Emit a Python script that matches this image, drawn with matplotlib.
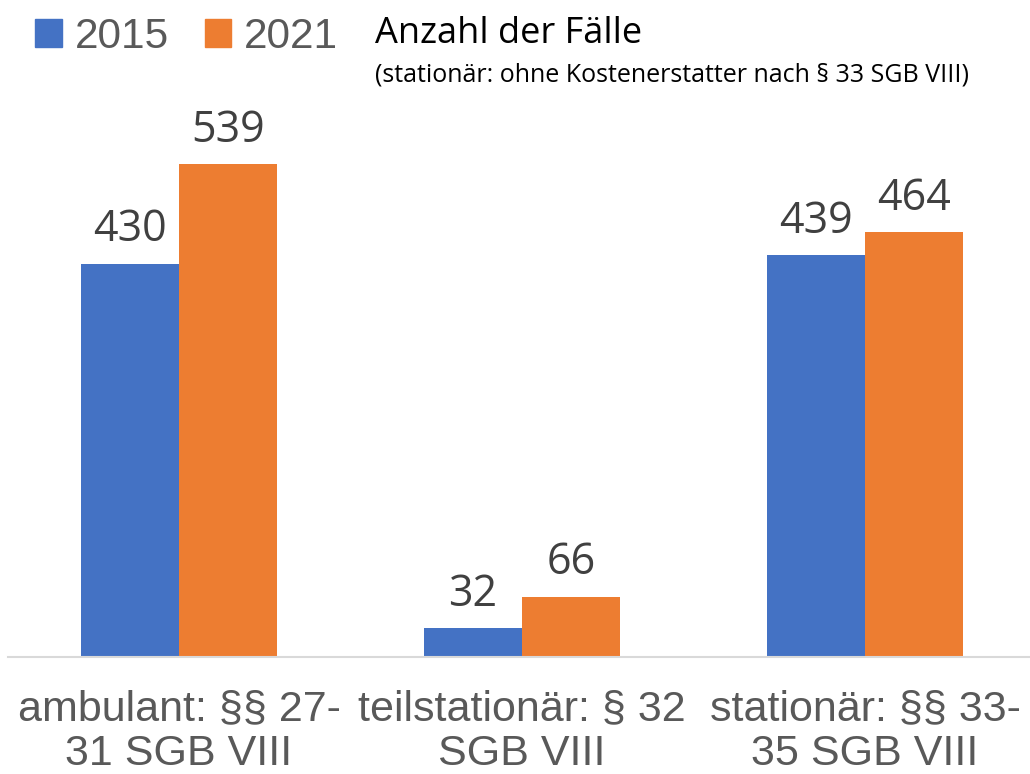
import numpy as np
import matplotlib.pyplot as plt
from matplotlib.patches import Patch

categories = ["ambulant: §§ 27-\n31 SGB VIII", "teilstationär: § 32\nSGB VIII", "stationär: §§ 33-\n35 SGB VIII"]
years = ["2015", "2021"]
vals_2015 = [430, 32, 439]
vals_2021 = [539, 66, 464]

blue = '#4472C4'
orange = '#ED7D31'
W, H = 1030, 774

fig = plt.figure(figsize=(W/100, H/100), dpi=100)
ax = fig.add_axes([8/W, (H-657)/H, 1022/W, 549/H])

x = np.arange(len(categories))
bw = 98/343
b1 = ax.bar(x - bw/2, vals_2015, bw, color=blue, label=years[0])
b2 = ax.bar(x + bw/2, vals_2021, bw, color=orange, label=years[1])

for bars in (b1, b2):
    for r in bars:
        ax.annotate(str(int(r.get_height())), (r.get_x() + r.get_width()/2, r.get_height()),
                    xytext=(0, 8), textcoords='offset points', ha='center', va='bottom',
                    fontsize=31, family='Open Sans', color='#404040')

ax.set_xlim(-0.4985, 2.481)
ax.set_ylim(0, 600)
ax.set_yticks([])
ax.set_xticks(x)
ax.set_xticklabels(categories, fontsize=31, family='Liberation Sans', color='#595959', linespacing=1.17)
ax.tick_params(axis='x', length=0, pad=23)
for s in ['top', 'right', 'left']:
    ax.spines[s].set_visible(False)
ax.spines['bottom'].set_color('#d9d9d9')
ax.spines['bottom'].set_linewidth(1.5)

handles = [Patch(color=blue), Patch(color=orange)]
fig.legend(handles, years, loc='upper left', bbox_to_anchor=(35/W, 1 - 17/H), ncol=2, frameon=False,
           prop={'family': 'Liberation Sans', 'size': 30.5}, labelcolor='#595959',
           handlelength=0.63, handleheight=0.63, handletextpad=0.3, columnspacing=0.85, borderpad=0, borderaxespad=0)

fig.text(375/W, 1 - 43/H, "Anzahl der Fälle", fontsize=26, family='Open Sans', color='black', va='baseline')
fig.text(375/W, 1 - 82/H, "(stationär: ohne Kostenerstatter nach § 33 SGB VIII)", fontsize=18,
         family='Open Sans', color='black', va='baseline')

fig.savefig('out.png', dpi=100)
